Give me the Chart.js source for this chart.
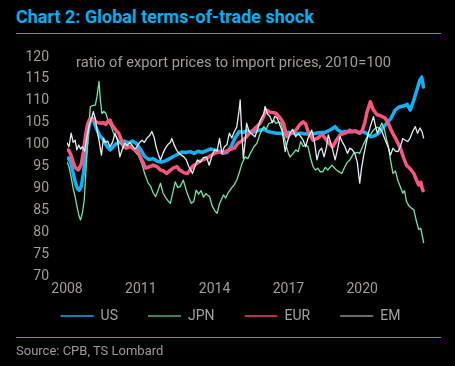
<!DOCTYPE html>
<html>
<head>
<meta charset="utf-8">
<script src="https://cdn.jsdelivr.net/npm/chart.js@4.4.1/dist/chart.umd.min.js"></script>
<style>
  html, body { margin: 0; padding: 0; background: #000; }
  #page { position: relative; width: 455px; height: 366px; background: #000; font-family: Roboto, "Open Sans", sans-serif; }
  #title { position: absolute; left: 16px; top: 6px; font-size: 18px; font-weight: bold; color: #00b0f0; white-space: nowrap; }
  .rule { position: absolute; left: 16px; width: 425px; height: 1px; background: #00b0f0; }
  #source { position: absolute; left: 16px; top: 343px; font-size: 13px; color: #9a9a9a; white-space: nowrap; }
  #wrap { position: absolute; left: 0; top: 0; width: 455px; height: 366px; }
</style>
</head>
<body>
<div id="page">
  <div id="title">Chart 2: Global terms-of-trade shock</div>
  <div class="rule" style="top:33px"></div>
  <div id="wrap"><canvas id="totChart"></canvas></div>
  <div class="rule" style="top:337px"></div>
  <div id="source">Source: CPB, TS Lombard</div>
</div>
<script>
// x tick labels (years) and y ticks
const yearTicks = [2008, 2011, 2014, 2017, 2020];
const yTicks = [70, 75, 80, 85, 90, 95, 100, 105, 110, 115, 120];
const subtitle = "ratio of export prices to import prices, 2010=100";

// US
const usDates = [2008.0, 2008.08, 2008.17, 2008.25, 2008.33, 2008.42, 2008.5, 2008.58, 2008.67, 2008.75, 2008.83, 2008.92,
  2009.0, 2009.08, 2009.17, 2009.25, 2009.33, 2009.42, 2009.5, 2009.58, 2009.67, 2009.75, 2009.83, 2009.92,
  2010.0, 2010.17, 2010.33, 2010.5, 2010.67, 2010.83, 2011.0, 2011.17, 2011.33, 2011.5, 2011.67, 2011.83,
  2012.0, 2012.17, 2012.33, 2012.5, 2012.67, 2012.83, 2013.0, 2013.17, 2013.33, 2013.5, 2013.67, 2013.83,
  2014.0, 2014.17, 2014.33, 2014.5, 2014.67, 2014.83, 2015.0, 2015.17, 2015.33, 2015.5, 2015.67, 2015.83,
  2016.0, 2016.17, 2016.33, 2016.5, 2016.67, 2016.83, 2017.0, 2017.25, 2017.5, 2017.75, 2018.0, 2018.25,
  2018.5, 2018.75, 2018.9, 2019.0, 2019.17, 2019.33, 2019.5, 2019.67, 2019.83, 2020.0, 2020.17, 2020.33,
  2020.5, 2020.67, 2020.83, 2021.0, 2021.17, 2021.33, 2021.5, 2021.67, 2021.83, 2021.95, 2022.08, 2022.17,
  2022.25, 2022.33, 2022.42, 2022.5];
const usValues = [96.5, 97.0, 95.5, 93.5, 91.5, 90.0, 89.6, 90.5, 93.5, 97.5, 102.0, 105.0,
  106.0, 105.5, 104.0, 103.0, 102.0, 101.5, 101.0, 100.0, 99.3, 98.8, 99.2, 99.8,
  100.2, 100.5, 100.8, 100.4, 100.8, 100.2, 98.8, 97.2, 96.6, 96.8, 96.2, 96.0,
  96.3, 96.8, 97.3, 97.8, 98.3, 98.2, 98.4, 98.0, 98.5, 98.2, 98.6, 99.0,
  98.8, 98.5, 98.0, 98.2, 99.5, 101.5, 103.0, 102.8, 103.2, 102.8, 103.0, 103.3,
  103.5, 103.0, 102.8, 102.6, 102.6, 102.4, 102.8, 102.5, 102.6, 102.4, 102.5, 102.7,
  102.8, 103.5, 104.1, 103.4, 102.8, 103.0, 102.9, 103.1, 102.7, 103.0, 102.6, 101.8,
  102.0, 102.6, 103.8, 104.9, 106.0, 107.8, 108.6, 108.8, 109.2, 107.9, 109.8, 111.5,
  113.0, 114.5, 115.4, 112.8];

// JPN
const jpnDates = [2008.0, 2008.08, 2008.17, 2008.25, 2008.33, 2008.42, 2008.5, 2008.55, 2008.63, 2008.7, 2008.78, 2008.87,
  2008.95, 2009.05, 2009.15, 2009.22, 2009.3, 2009.36, 2009.42, 2009.5, 2009.58, 2009.67, 2009.8, 2009.9,
  2010.0, 2010.15, 2010.3, 2010.45, 2010.6, 2010.75, 2010.9, 2011.04, 2011.15, 2011.3, 2011.4, 2011.5,
  2011.6, 2011.7, 2011.8, 2011.9, 2012.0, 2012.1, 2012.2, 2012.3, 2012.4, 2012.5, 2012.6, 2012.73,
  2012.85, 2012.95, 2013.05, 2013.15, 2013.25, 2013.35, 2013.45, 2013.55, 2013.65, 2013.8, 2013.9, 2014.0,
  2014.1, 2014.2, 2014.36, 2014.45, 2014.55, 2014.7, 2014.8, 2014.9, 2015.0, 2015.1, 2015.24, 2015.35,
  2015.45, 2015.6, 2015.72, 2015.85, 2016.0, 2016.1, 2016.2, 2016.3, 2016.4, 2016.5, 2016.6, 2016.7,
  2016.8, 2016.9, 2017.0, 2017.07, 2017.2, 2017.3, 2017.4, 2017.5, 2017.6, 2017.7, 2017.8, 2017.9,
  2018.0, 2018.1, 2018.2, 2018.3, 2018.4, 2018.5, 2018.6, 2018.77, 2018.9, 2019.0, 2019.17, 2019.3,
  2019.4, 2019.5, 2019.65, 2019.8, 2019.9, 2020.05, 2020.2, 2020.35, 2020.46, 2020.6, 2020.7, 2020.8,
  2020.9, 2021.0, 2021.07, 2021.15, 2021.25, 2021.35, 2021.45, 2021.55, 2021.65, 2021.72, 2021.8, 2021.9,
  2022.0, 2022.1, 2022.2, 2022.3, 2022.38, 2022.45, 2022.5];
const jpnValues = [96.1, 95.0, 92.5, 90.0, 88.1, 85.5, 83.5, 82.8, 84.5, 87.3, 95.0, 103.0,
  108.7, 108.9, 109.0, 111.0, 114.4, 110.0, 107.1, 107.6, 107.1, 105.5, 104.1, 102.5,
  101.8, 100.5, 99.2, 99.8, 99.5, 98.5, 97.5, 95.7, 93.5, 91.2, 90.5, 89.0,
  88.1, 89.5, 91.2, 89.0, 88.0, 87.2, 86.6, 89.0, 91.5, 90.2, 90.4, 91.9,
  89.5, 88.0, 86.6, 87.0, 89.6, 88.7, 89.5, 88.0, 88.8, 88.1, 86.0, 85.0,
  84.3, 86.5, 88.5, 87.8, 89.0, 90.2, 90.8, 91.9, 93.5, 95.5, 97.2, 96.8,
  98.0, 99.5, 100.3, 102.5, 104.1, 103.5, 104.8, 105.0, 105.6, 104.8, 105.2, 104.9,
  102.5, 100.0, 98.0, 97.2, 98.0, 98.8, 98.4, 100.7, 99.6, 99.9, 99.5, 97.0,
  95.0, 94.2, 94.6, 93.8, 93.8, 94.8, 94.2, 95.3, 94.5, 94.0, 93.4, 95.0,
  96.0, 96.5, 98.0, 98.2, 98.0, 100.0, 101.8, 102.4, 103.3, 104.0, 103.7, 104.9,
  103.5, 101.0, 99.5, 96.5, 93.4, 94.0, 91.8, 90.4, 88.9, 89.5, 87.0, 86.0,
  85.5, 85.1, 82.6, 80.6, 80.9, 79.0, 77.5];

// EUR
const eurDates = [2008.0, 2008.08, 2008.17, 2008.25, 2008.33, 2008.46, 2008.58, 2008.67, 2008.75, 2008.83, 2008.92, 2009.07,
  2009.17, 2009.34, 2009.5, 2009.58, 2009.67, 2009.75, 2009.83, 2010.0, 2010.1, 2010.25, 2010.4, 2010.58,
  2010.75, 2010.85, 2011.0, 2011.2, 2011.33, 2011.5, 2011.65, 2011.8, 2011.92, 2012.05, 2012.17, 2012.3,
  2012.46, 2012.58, 2012.75, 2012.9, 2013.1, 2013.25, 2013.4, 2013.55, 2013.7, 2013.85, 2014.0, 2014.2,
  2014.35, 2014.5, 2014.65, 2014.8, 2014.95, 2015.1, 2015.3, 2015.45, 2015.6, 2015.75, 2015.85, 2016.0,
  2016.1, 2016.25, 2016.4, 2016.5, 2016.6, 2016.7, 2016.8, 2016.94, 2017.1, 2017.3, 2017.45, 2017.6,
  2017.7, 2017.8, 2018.0, 2018.17, 2018.3, 2018.4, 2018.55, 2018.7, 2018.8, 2018.95, 2019.1, 2019.3,
  2019.5, 2019.6, 2019.75, 2019.9, 2020.0, 2020.1, 2020.2, 2020.33, 2020.45, 2020.6, 2020.75, 2020.94,
  2021.08, 2021.2, 2021.35, 2021.55, 2021.67, 2021.8, 2021.95, 2022.1, 2022.2, 2022.3, 2022.38, 2022.45,
  2022.5];
const eurValues = [99.0, 98.6, 97.5, 96.0, 94.8, 94.2, 95.5, 98.5, 102.0, 104.5, 105.8, 106.0,
  105.2, 104.9, 105.0, 104.6, 105.4, 105.6, 104.5, 103.2, 102.6, 100.5, 99.2, 99.5,
  98.8, 98.8, 97.0, 94.6, 94.9, 95.3, 95.0, 94.2, 94.0, 93.4, 94.0, 94.6,
  95.0, 94.2, 93.6, 93.4, 95.0, 95.6, 96.2, 96.6, 96.9, 97.5, 98.0, 98.4,
  98.1, 98.6, 98.9, 99.2, 100.3, 100.8, 101.8, 102.8, 103.5, 104.3, 104.9, 106.5,
  107.9, 107.4, 107.3, 107.1, 106.5, 105.8, 104.9, 101.8, 102.5, 103.3, 104.5, 105.2,
  104.7, 103.0, 101.0, 101.4, 102.0, 102.2, 101.0, 100.0, 99.5, 101.0, 102.2, 102.6,
  103.3, 102.9, 103.1, 102.6, 103.2, 104.9, 107.5, 109.8, 108.0, 106.8, 106.6, 106.0,
  104.6, 103.0, 101.5, 99.2, 97.2, 95.3, 94.5, 93.4, 92.0, 90.8, 91.4, 89.8,
  89.2];

// EM
const emDates = [2008.0, 2008.08, 2008.17, 2008.25, 2008.33, 2008.4, 2008.48, 2008.55, 2008.63, 2008.72, 2008.8, 2008.9,
  2009.0, 2009.07, 2009.15, 2009.22, 2009.3, 2009.4, 2009.48, 2009.55, 2009.65, 2009.75, 2009.85, 2009.95,
  2010.05, 2010.15, 2010.25, 2010.35, 2010.45, 2010.55, 2010.65, 2010.75, 2010.85, 2010.95, 2011.05, 2011.15,
  2011.25, 2011.35, 2011.45, 2011.55, 2011.62, 2011.7, 2011.8, 2011.9, 2012.0, 2012.1, 2012.2, 2012.26,
  2012.35, 2012.45, 2012.55, 2012.65, 2012.75, 2012.85, 2012.95, 2013.05, 2013.1, 2013.2, 2013.3, 2013.42,
  2013.55, 2013.67, 2013.78, 2013.9, 2014.0, 2014.1, 2014.2, 2014.3, 2014.4, 2014.5, 2014.6, 2014.7,
  2014.8, 2014.9, 2015.0, 2015.04, 2015.1, 2015.17, 2015.25, 2015.3, 2015.4, 2015.5, 2015.64, 2015.75,
  2015.85, 2016.0, 2016.05, 2016.15, 2016.25, 2016.35, 2016.45, 2016.55, 2016.65, 2016.75, 2016.87, 2016.95,
  2017.07, 2017.17, 2017.3, 2017.4, 2017.5, 2017.6, 2017.7, 2017.8, 2017.95, 2018.05, 2018.16, 2018.25,
  2018.35, 2018.45, 2018.55, 2018.62, 2018.72, 2018.8, 2018.9, 2019.0, 2019.1, 2019.2, 2019.3, 2019.4,
  2019.5, 2019.6, 2019.7, 2019.8, 2019.9, 2019.97, 2020.05, 2020.15, 2020.25, 2020.35, 2020.46, 2020.55,
  2020.62, 2020.7, 2020.8, 2020.94, 2021.05, 2021.15, 2021.25, 2021.35, 2021.45, 2021.55, 2021.65, 2021.75,
  2021.85, 2021.95, 2022.05, 2022.16, 2022.25, 2022.35, 2022.43, 2022.5];
const emValues = [100.4, 99.5, 102.6, 100.5, 101.0, 98.8, 99.9, 99.0, 99.5, 98.5, 101.5, 104.5,
  106.0, 107.5, 106.0, 103.3, 101.0, 97.6, 101.4, 100.5, 100.8, 99.5, 100.5, 102.6,
  101.0, 97.2, 99.0, 100.3, 99.8, 100.5, 99.8, 99.0, 99.5, 100.5, 101.0, 100.5,
  101.5, 102.0, 103.0, 101.5, 99.5, 98.0, 96.5, 98.0, 99.2, 100.0, 100.5, 101.4,
  100.0, 98.8, 98.0, 97.6, 97.2, 96.5, 95.0, 94.0, 93.4, 95.0, 96.5, 96.0,
  97.0, 97.2, 95.3, 97.5, 98.8, 98.5, 101.4, 98.0, 99.5, 100.0, 102.6, 101.5,
  103.0, 104.0, 108.0, 110.2, 103.0, 96.9, 101.0, 104.9, 103.0, 102.5, 101.8, 103.5,
  105.5, 107.0, 108.7, 107.0, 106.4, 105.0, 106.5, 106.0, 104.5, 103.0, 98.4, 100.5,
  102.6, 103.5, 101.8, 102.5, 101.8, 101.0, 99.5, 101.5, 103.3, 101.0, 96.5, 98.5,
  99.2, 97.2, 99.5, 102.2, 100.5, 98.8, 96.5, 99.0, 101.8, 100.5, 99.5, 98.0,
  99.2, 98.8, 98.0, 96.0, 91.2, 94.5, 97.2, 100.0, 102.6, 104.5, 106.4, 104.0,
  102.6, 103.8, 103.0, 101.0, 99.5, 97.6, 99.2, 98.5, 98.4, 99.5, 101.4, 101.0,
  100.7, 101.5, 103.0, 104.1, 102.6, 103.8, 103.0, 101.4];

const tickColor = "#a39c94";

function toPoints(dates, values) {
  return dates.map((d, i) => ({ x: d, y: values[i] }));
}

// legend swatches are thinner / darker than the plotted lines
const legendColors = ["#14aeee", "#4cae7c", "#f0416f", "#8e8e8e"];

const subtitlePlugin = {
  id: "subtitleText",
  afterLayout(chart) {
    // pull the legend up closer to the year labels
    if (chart.legend) {
      chart.legend.top -= 19;
      chart.legend.bottom -= 19;
    }
  },
  afterDraw(chart) {
    const ctx = chart.ctx;
    ctx.save();
    ctx.font = "14.7px Roboto";
    ctx.fillStyle = tickColor;
    ctx.textBaseline = "middle";
    ctx.fillText(subtitle, 76, 63);
    ctx.restore();
  }
};

const ctx = document.getElementById("totChart").getContext("2d");
new Chart(ctx, {
  type: "line",
  data: {
    datasets: [
      { label: "US", data: toPoints(usDates, usValues), borderColor: "#0fb2f5", borderWidth: 3.5, order: 4 },
      { label: "JPN", data: toPoints(jpnDates, jpnValues), borderColor: "#6fe6a8", borderWidth: 1.3, order: 3 },
      { label: "EUR", data: toPoints(eurDates, eurValues), borderColor: "#fb557e", borderWidth: 3.5, order: 2 },
      { label: "EM", data: toPoints(emDates, emValues), borderColor: "#dfeef4", borderWidth: 1.3, order: 1 }
    ]
  },
  options: {
    responsive: true,
    maintainAspectRatio: false,
    animation: false,
    elements: {
      point: { radius: 0 },
      line: { tension: 0, borderJoinStyle: "round", fill: false }
    },
    layout: { padding: { left: 25, right: 19, top: 57, bottom: 14 } },
    scales: {
      x: {
        type: "linear",
        min: 2008,
        max: 2023,
        afterBuildTicks: (scale) => { scale.ticks = yearTicks.map(v => ({ value: v })); },
        afterFit: (scale) => { scale.height = 22; },
        grid: { display: false, drawTicks: false },
        border: { display: false },
        ticks: {
          color: tickColor,
          font: { family: "Roboto", size: 14 },
          padding: 5,
          maxRotation: 0,
          autoSkip: false,
          callback: (v) => String(v)
        }
      },
      y: {
        min: 70,
        max: 120,
        afterBuildTicks: (scale) => { scale.ticks = yTicks.map(v => ({ value: v })); },
        afterFit: (scale) => { scale.width = 42; },
        grid: { display: false, drawTicks: false },
        border: { display: false },
        ticks: {
          color: tickColor,
          font: { family: "Roboto", size: 14 },
          padding: 18
        }
      }
    },
    plugins: {
      tooltip: { enabled: false },
      legend: {
        position: "bottom",
        labels: {
          usePointStyle: true,
          pointStyle: "line",
          pointStyleWidth: 33,
          color: "#a0a0a0",
          font: { family: "Roboto", size: 14 },
          padding: 30,
          generateLabels: (chart) => chart.data.datasets.map((ds, i) => ({
            text: ds.label,
            strokeStyle: legendColors[i],
            fillStyle: legendColors[i],
            fontColor: "#a0a0a0",
            lineWidth: 1.5,
            pointStyle: "line",
            hidden: false,
            datasetIndex: i
          }))
        }
      }
    }
  },
  plugins: [subtitlePlugin]
});
</script>
</body>
</html>
